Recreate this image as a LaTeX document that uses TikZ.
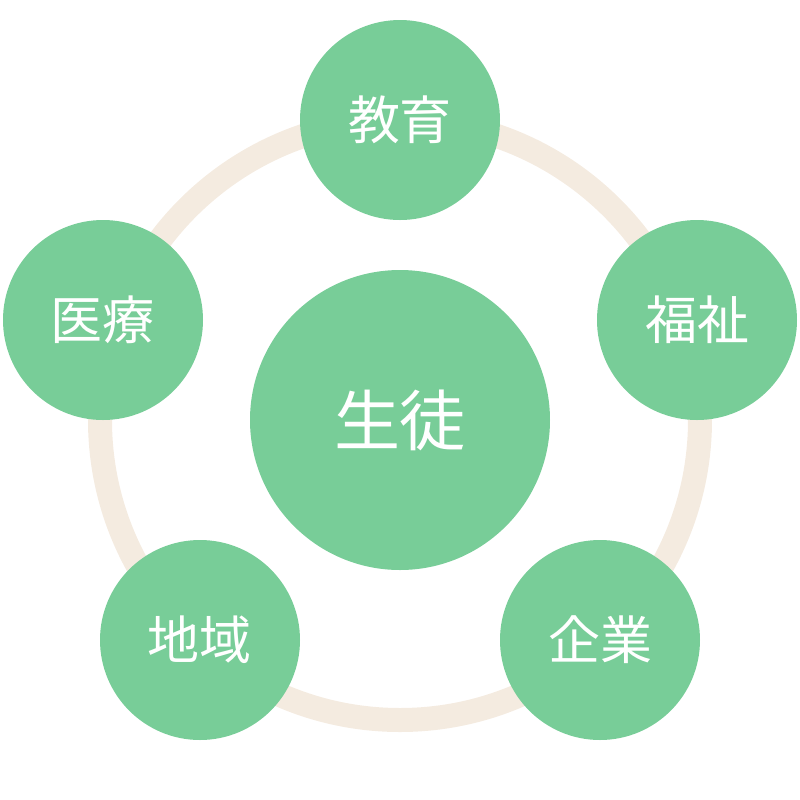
\documentclass[tikz,border=0pt]{standalone}
\usepackage{fontspec}
\newfontfamily\cjk{Noto Sans CJK JP}
\definecolor{leaf}{HTML}{78CD98}
\definecolor{ringc}{HTML}{F4EBE0}
\begin{document}
\begin{tikzpicture}[x=0.5pt,y=-0.5pt,
  outer/.style={circle,fill=leaf,minimum size=100pt,inner sep=0pt,text=white,font=\cjk\fontsize{26}{26}\selectfont},
  inner/.style={circle,fill=leaf,minimum size=150pt,inner sep=0pt,text=white,font=\cjk\fontsize{33}{33}\selectfont}]
\useasboundingbox (0,0) rectangle (800,800);
\draw[ringc,line width=12pt] (400,420) circle [radius=150pt];
\node[inner] (c) at (400,420) {生徒};
\node[outer] (a) at (400,120) {教育};
\node[outer] (b) at (697,320) {福祉};
\node[outer] (d) at (600,640) {企業};
\node[outer] (e) at (200,640) {地域};
\node[outer] (f) at (103,320) {医療};
\end{tikzpicture}
\end{document}
